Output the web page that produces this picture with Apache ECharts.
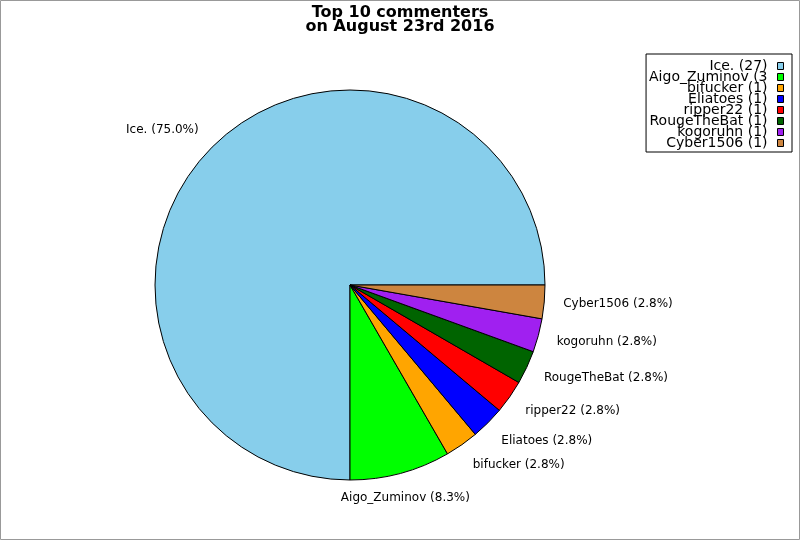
<!DOCTYPE html>
<html>
<head>
<meta charset="utf-8">
<script src="https://cdn.jsdelivr.net/npm/echarts@6/dist/echarts.min.js"></script>
<style>
  html, body { margin: 0; padding: 0; background: #fff; }
  #chart { width: 800px; height: 540px; }
</style>
</head>
<body>
<div id="chart"></div>
<script>
// commenters and how many comments each left
const names = ['Ice.', 'Aigo_Zuminov', 'bifucker', 'Eliatoes', 'ripper22', 'RougeTheBat', 'kogoruhn', 'Cyber1506'];
const counts = [27, 3, 1, 1, 1, 1, 1, 1];
const colors = ['#87ceeb', '#00ff00', '#ffa500', '#0000ff', '#ff0000', '#006400', '#a020f0', '#cd853f'];

const total = counts.reduce((s, v) => s + v, 0);
const pieCenter = [350, 285];
const pieRadius = 195;

const chart = echarts.init(document.getElementById('chart'));

// push labels a bit further out vertically, like the original does
function placeLabel(p) {
  const r = p.labelRect;
  const cy = r.y + r.height / 2 - pieCenter[1];
  const out = { dy: 6 * cy / (pieRadius * 1.1) };
  if (p.dataIndex === 1) out.align = 'center';
  return out;
}

const option = {
  animation: false,
  color: colors,
  textStyle: { fontFamily: 'DejaVu Sans' },
  title: {
    text: 'Top 10 commenters\non August 23rd 2016',
    left: 'center',
    top: 1,
    textStyle: {
      fontFamily: 'DejaVu Sans',
      fontSize: 16,
      fontWeight: 'bold',
      lineHeight: 14,
      color: '#000'
    }
  },
  legend: {
    orient: 'vertical',
    align: 'right',
    right: 8,
    top: 54,
    padding: [5, 8, 2, 3],
    itemGap: -3,
    itemWidth: 6,
    itemHeight: 7,
    icon: 'rect',
    borderColor: '#000',
    borderWidth: 1,
    borderRadius: 0,
    selectedMode: false,
    itemStyle: { borderColor: '#000', borderWidth: 1 },
    textStyle: {
      fontFamily: 'DejaVu Sans',
      fontSize: 14,
      lineHeight: 11,
      color: '#000',
      padding: [0, 5, 0, 0]
    },
    // labels are cut to 15 characters, as in the original
    formatter: name => {
      const i = names.indexOf(name);
      return (name + ' (' + counts[i] + ')').slice(0, 15);
    },
    data: names
  },
  graphic: [{
    type: 'rect',
    shape: { x: 0.5, y: 0.5, width: 799, height: 539 },
    style: { fill: 'none', stroke: '#999', lineWidth: 1 },
    silent: true
  }],
  series: [{
    type: 'pie',
    center: pieCenter,
    radius: pieRadius,
    startAngle: 0,
    clockwise: false,
    avoidLabelOverlap: false,
    emphasis: { disabled: true },
    itemStyle: { borderColor: '#000', borderWidth: 1 },
    label: {
      position: 'outside',
      fontFamily: 'DejaVu Sans',
      fontSize: 12,
      color: '#000',
      distanceToLabelLine: 0,
      formatter: p => p.name + ' (' + (p.value / total * 100).toFixed(1) + '%)'
    },
    labelLine: { show: false, length: 19, length2: 0 },
    labelLayout: placeLabel,
    data: names.map((n, i) => ({ name: n, value: counts[i] }))
  }]
};

chart.setOption(option);
</script>
</body>
</html>
